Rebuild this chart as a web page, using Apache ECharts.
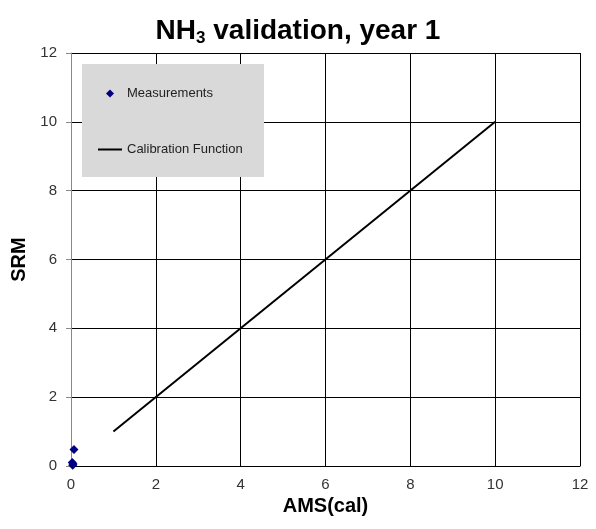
<!DOCTYPE html>
<html><head><meta charset="utf-8">
<script src="https://cdn.jsdelivr.net/npm/echarts@6/dist/echarts.min.js"></script>
<style>html,body{margin:0;padding:0;background:#fff}#c{width:596px;height:529px}</style>
</head><body><div id="c"></div>
<script>
var measurements = [[0.07, 0.48], [0.03, 0.10], [0.04, 0.02], [0.05, 0.06]];
var calibration = [[1, 1], [10, 10]];
var xTicks = [0, 2, 4, 6, 8, 10, 12];
var yTicks = [0, 2, 4, 6, 8, 10, 12];
var ch = echarts.init(document.getElementById('c'));
var F = 'Liberation Sans, Arial, sans-serif';
ch.setOption({
  animation: false,
  backgroundColor: '#fff',
  title: {
    text: '{a|NH}{s|3}{a| validation, year 1}',
    left: 'center', top: 11,
    textStyle: {
      rich: {
        a: {fontFamily: F, fontSize: 28, fontWeight: 'bold', color: '#000'},
        s: {fontFamily: F, fontSize: 17, fontWeight: 'bold', color: '#000', verticalAlign: 'bottom', padding: [14, 0, 0, 0]}
      }
    }
  },
  graphic: [{type: 'rect', shape: {x: 82, y: 64, width: 182, height: 113}, style: {fill: '#d9d9d9'}, z: 3}],
  legend: [
    {
      orient: 'vertical', left: 101, top: 82, itemWidth: 8, itemHeight: 8, z: 5,
      textStyle: {fontFamily: F, fontSize: 13, color: '#222', padding: [0, 0, 0, 8]},
      data: [{name: 'Measurements', icon: 'diamond'}]
    },
    {
      orient: 'vertical', left: 93, top: 138, itemWidth: 24, itemHeight: 2, z: 5,
      textStyle: {fontFamily: F, fontSize: 13, color: '#222'},
      data: [{name: 'Calibration Function', icon: 'rect'}]
    }
  ],
  grid: {left: 71, right: 16, top: 53, bottom: 63},
  xAxis: {
    type: 'value', min: 0, max: 12, interval: 2,
    name: 'AMS(cal)', nameLocation: 'middle', nameGap: 30,
    nameTextStyle: {fontFamily: F, fontSize: 20, fontWeight: 'bold', color: '#000'},
    axisLine: {onZero: false, lineStyle: {color: '#000'}},
    axisTick: {show: true, inside: true, length: 4, lineStyle: {color: '#000'}},
    axisLabel: {fontFamily: F, fontSize: 15, color: '#333', margin: 11, formatter: function (v) { return xTicks.indexOf(v) >= 0 ? String(v) : ''; }},
    splitLine: {show: true, lineStyle: {color: '#000', width: 1}}
  },
  yAxis: {
    type: 'value', min: 0, max: 12, interval: 2,
    name: 'SRM', nameLocation: 'middle', nameGap: 41,
    nameTextStyle: {fontFamily: F, fontSize: 20, fontWeight: 'bold', color: '#000'},
    axisLine: {onZero: false, lineStyle: {color: '#888'}},
    axisTick: {show: true, length: 5, lineStyle: {color: '#888'}},
    axisLabel: {fontFamily: F, fontSize: 15, color: '#333', margin: 14, formatter: function (v) { return yTicks.indexOf(v) >= 0 ? String(v) : ''; }},
    splitLine: {show: true, lineStyle: {color: '#000', width: 1}}
  },
  series: [
    {name: 'Measurements', type: 'scatter', symbol: 'diamond', symbolSize: 9, itemStyle: {color: '#000080', opacity: 1}, data: measurements, z: 6},
    {name: 'Calibration Function', type: 'line', symbol: 'none', lineStyle: {color: '#000', width: 2}, itemStyle: {color: '#000'}, data: calibration, z: 4}
  ]
});
</script></body></html>
